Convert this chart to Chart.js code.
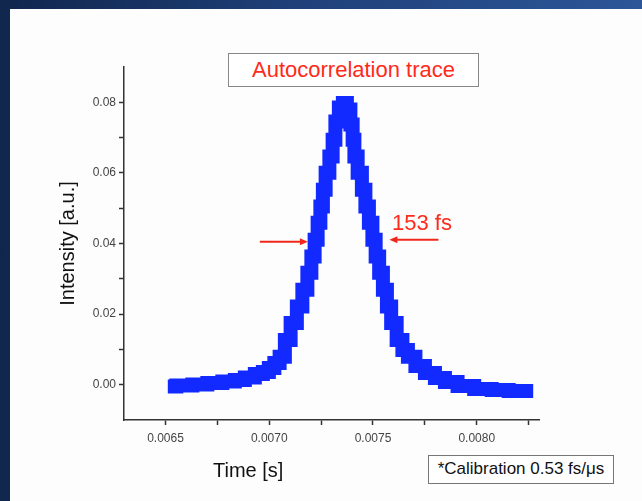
<!DOCTYPE html>
<html>
<head>
<meta charset="utf-8">
<script src="https://cdn.jsdelivr.net/npm/chart.js@4.4.1/dist/chart.umd.min.js"></script>
<style>
  html, body { margin: 0; padding: 0; }
  body {
    width: 642px; height: 501px; position: relative; overflow: hidden;
    background: linear-gradient(to right, #10264d 0%, #1f3f78 45%, #2c5698 100%);
    font-family: "Liberation Sans", Arial, sans-serif;
  }
  #panel { position: absolute; left: 10px; top: 9px; right: 0; bottom: 0; background: #fdfdfd; }
  #traceChart { position: absolute; left: 0; top: 0; }
  .box { position: absolute; border: 1.5px solid #888; background: #fff; text-align: center; box-sizing: border-box; }
  #title { left: 228px; top: 53px; width: 251px; height: 34px; line-height: 31px; color: #ff2a1a; font-size: 22px; }
  #fwhm { position: absolute; left: 392px; top: 210px; color: #ff2a1a; font-size: 22px; line-height: 26px; }
  #xlabel { position: absolute; left: 213px; top: 458px; color: #111; font-size: 20px; line-height: 24px; }
  #calib { left: 428px; top: 455px; width: 186px; height: 29px; line-height: 26px; color: #111; font-size: 17px; border-color: #777; }
</style>
</head>
<body>
<div id="panel"></div>
<canvas id="traceChart" width="642" height="501"></canvas>
<div class="box" id="title">Autocorrelation trace</div>
<div id="fwhm">153 fs</div>
<div id="xlabel">Time [s]</div>
<div class="box" id="calib">*Calibration 0.53 fs/μs</div>
<script>
// autocorrelation trace (centre of the thick band)
const time = [
    0.0065111, 0.0065931, 0.0066654, 0.0067377, 0.0068100, 0.0068582, 0.0069065, 0.0069547,
    0.0069836, 0.0070125, 0.0070367, 0.0070632, 0.0070873, 0.0071186, 0.0071475, 0.0071717,
    0.0071958, 0.0072102, 0.0072271, 0.0072392, 0.0072536, 0.0072633, 0.0072801, 0.0072994,
    0.0073115, 0.0073260, 0.0073452, 0.0073645, 0.0073838, 0.0073983, 0.0074055, 0.0074152,
    0.0074368, 0.0074561, 0.0074706, 0.0074899, 0.0075043, 0.0075212, 0.0075381, 0.0075574,
    0.0075767, 0.0075983, 0.0076297, 0.0076538, 0.0076827, 0.0077261, 0.0077744, 0.0078226,
    0.0078708, 0.0079442, 0.0080310, 0.0081129, 0.0081949, 0.0082720
];
const intensity = [
    -0.00051, -0.00023, 0.00006, 0.00048, 0.00091, 0.00133, 0.00204, 0.00304,
    0.00360, 0.00474, 0.00616, 0.00794, 0.01268, 0.01751, 0.02213, 0.02687,
    0.03169, 0.03631, 0.04105, 0.04587, 0.05050, 0.05524, 0.06006, 0.06468,
    0.06942, 0.07453, 0.07850, 0.07978, 0.07794, 0.07368, 0.06942, 0.06468,
    0.06006, 0.05524, 0.05050, 0.04587, 0.04105, 0.03631, 0.03169, 0.02687,
    0.02213, 0.01751, 0.01268, 0.00984, 0.00794, 0.00531, 0.00332, 0.00190,
    0.00077, -0.00037, -0.00122, -0.00150, -0.00179, -0.00179
];

// axis ticks
const xTicks = [0.0065, 0.00675, 0.0070, 0.00725, 0.0075, 0.00775, 0.0080, 0.00825];
const yTicks = [0.00, 0.01, 0.02, 0.03, 0.04, 0.05, 0.06, 0.07, 0.08];

// FWHM marker arrows (time range of each arrow, intensity level)
const fwhmLeft = [0.0069547, 0.0071861];
const fwhmRight = [0.0078153, 0.0075790];
const fwhmLevel = [0.04048, 0.04105];

const points = time.map((t, i) => ({ x: t, y: intensity[i] }));

const arrowPlugin = {
    id: 'fwhmArrows',
    afterDatasetsDraw(chart) {
        const c = chart.ctx;
        const xs = chart.scales.x, ys = chart.scales.y;
        const draw = (from, to, lvl) => {
            const x0 = xs.getPixelForValue(from), x1 = xs.getPixelForValue(to);
            const y = ys.getPixelForValue(lvl);
            const dir = Math.sign(x1 - x0);
            c.save();
            c.strokeStyle = '#f0281c';
            c.fillStyle = '#f0281c';
            c.lineWidth = 2;
            c.beginPath();
            c.moveTo(x0, y);
            c.lineTo(x1 - dir * 6, y);
            c.stroke();
            c.beginPath();
            c.moveTo(x1, y);
            c.lineTo(x1 - dir * 8, y - 3.5);
            c.lineTo(x1 - dir * 8, y + 3.5);
            c.closePath();
            c.fill();
            c.restore();
        };
        draw(fwhmLeft[0], fwhmLeft[1], fwhmLevel[0]);
        draw(fwhmRight[0], fwhmRight[1], fwhmLevel[1]);
    }
};

const ctx = document.getElementById('traceChart').getContext('2d');
const traceChart = new Chart(ctx, {
    type: 'line',
    data: {
        datasets: [{
            label: 'Intensity',
            data: points,
            borderColor: 'rgb(18, 42, 255)',
            borderWidth: 14,
            stepped: 'middle',
            borderJoinStyle: 'miter',
            borderCapStyle: 'butt',
            pointRadius: 0,
            fill: false
        }]
    },
    options: {
        responsive: false,
        animation: false,
        layout: { padding: { left: 50, top: 67, right: 103, bottom: 21 } },
        plugins: {
            legend: { display: false },
            tooltip: { enabled: false }
        },
        scales: {
            x: {
                type: 'linear',
                min: 0.0063,
                max: 0.0083,
                afterBuildTicks: (s) => { s.ticks = xTicks.map(v => ({ value: v })); },
                afterFit: (s) => { s.height = 60; },
                ticks: {
                    autoSkip: false,
                    maxRotation: 0,
                    padding: 6,
                    color: '#444',
                    font: { family: 'Liberation Sans', size: 12 },
                    callback: (v) => Math.round(v * 20000) % 10 === 0 ? v.toFixed(4) : ''
                },
                grid: { drawOnChartArea: false, drawTicks: true, tickLength: 5, tickColor: '#333', tickWidth: 1.5 },
                border: { display: true, color: '#333', width: 1.5 }
            },
            y: {
                min: -0.01,
                max: 0.09,
                afterBuildTicks: (s) => { s.ticks = yTicks.map(v => ({ value: v })); },
                afterFit: (s) => { s.width = 74; },
                ticks: {
                    autoSkip: false,
                    padding: 3,
                    color: '#444',
                    font: { family: 'Liberation Sans', size: 12 },
                    callback: (v) => Math.round(v * 100) % 2 === 0 ? v.toFixed(2) : ''
                },
                title: {
                    display: true,
                    text: 'Intensity [a.u.]',
                    color: '#111',
                    font: { family: 'Liberation Sans', size: 20 },
                    padding: { top: 6, bottom: 0 }
                },
                grid: { drawOnChartArea: false, drawTicks: true, tickLength: 5, tickColor: '#333', tickWidth: 1.5 },
                border: { display: true, color: '#333', width: 1.5 }
            }
        }
    },
    plugins: [arrowPlugin]
});
</script>
</body>
</html>
